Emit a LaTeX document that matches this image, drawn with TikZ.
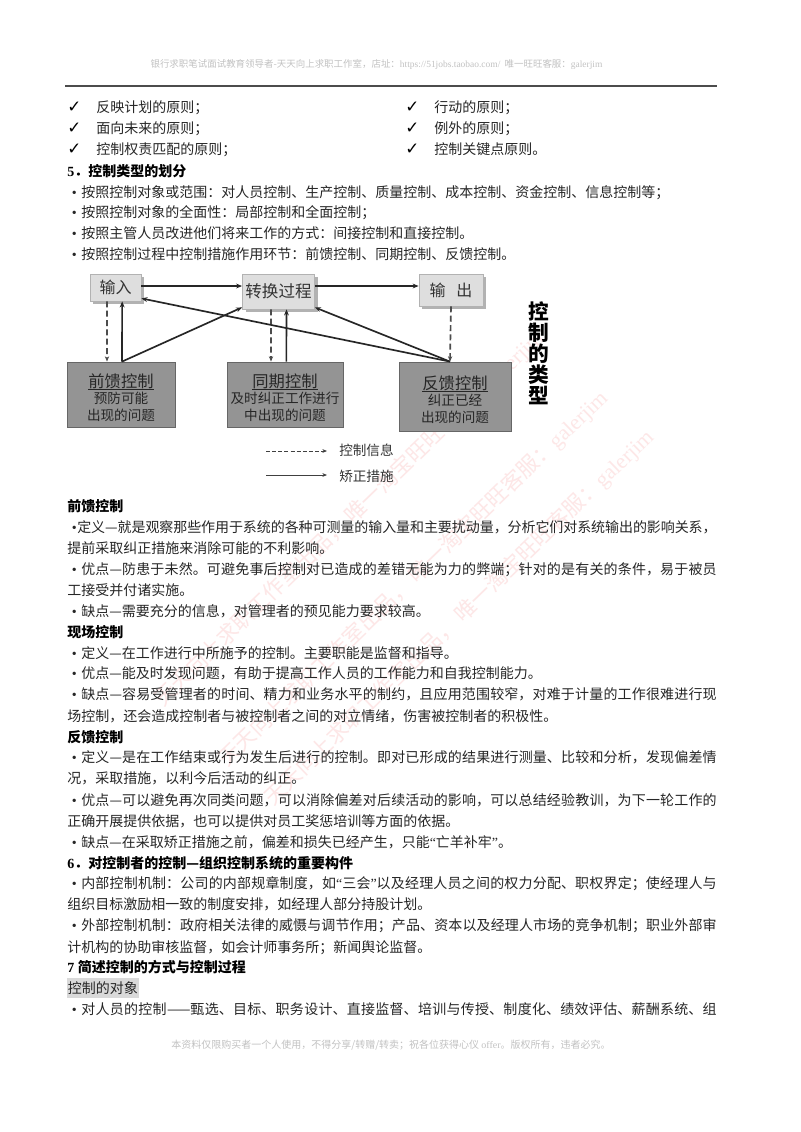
\documentclass[tikz,border=0pt]{standalone}
\usepackage{fontspec}
\usetikzlibrary{arrows.meta,shadows}
\setmainfont{Noto Sans CJK SC}
\newfontfamily\latf{Liberation Serif}
\newfontfamily\dejaf{DejaVu Sans}
\XeTeXlinebreaklocale "zh"
\XeTeXlinebreakskip=0pt plus 3pt minus 0.4pt
\definecolor{ink}{gray}{0.15}
\definecolor{wm}{RGB}{253,231,231}
\definecolor{hdr}{gray}{0.76}
\newcount\tcnt
\tikzset{
  tx/.style={anchor=base west,inner sep=0pt,text=ink,font=\fontsize{10.5pt}{13pt}\selectfont},
  hd/.style={tx,text=black,font=\fontsize{10.5pt}{13pt}\selectfont\bfseries},
  grayt/.style={anchor=base,inner sep=0pt,text=hdr},
  wmark/.style={anchor=base west,inner sep=0pt,rotate=44,text=wm,font=\fontsize{16.2pt}{18pt}\selectfont},
  lightbox/.style={draw=gray!60,line width=0.6pt,fill=black!13,text=black!80,inner sep=0pt,
    copy shadow={shadow xshift=2.5pt,shadow yshift=-2.5pt,fill=black!30,draw=none},
    font=\fontsize{12pt}{14pt}\selectfont},
  darkbox/.style={draw=black!60,line width=0.6pt,fill=black!42,text=black!85,inner sep=0pt,align=center,
    font=\fontsize{10.2pt}{12.7pt}\selectfont},
  solidarrow/.style={line width=1.25pt,black!85,-{Stealth[length=4.5pt,width=3.6pt]}},
  dasharrow/.style={line width=1.25pt,black!70,dash pattern=on 4.5pt off 2.5pt,-{Stealth[length=4pt,width=3.2pt]}},
  legsolid/.style={line width=0.6pt,black!75,-{Stealth[length=3.5pt,width=2.8pt]}},
  legdash/.style={line width=0.6pt,black!75,dash pattern=on 3pt off 1.6pt,-{Stealth[length=3.5pt,width=2.8pt]}},
}
\newcommand{\nm}{\global\advance\tcnt by 1 }
\newcommand{\plain}[3]{\nm\node[tx,name=t\the\tcnt] at (#1,#2+5) {#3};}
\newcommand{\head}[2]{\nm\node[hd,name=t\the\tcnt] at (67,#1+5) {#2};}
\newcommand{\dotm}[2]{\nm\node[tx,name=t\the\tcnt] at (#1,#2+5) {\latf\textbullet};}
\newcommand{\bl}[2]{\dotm{71.5}{#1}\plain{81}{#1}{#2}}
\newcommand{\jbl}[2]{\dotm{71.5}{#1}\nm\node[tx,name=t\the\tcnt] at (81,#1+5) {\parbox[b]{476.6pt}{\parfillskip=0pt\noindent #2}};}
\newcommand{\chk}[3]{\nm\node[tx,name=t\the\tcnt,text=black] at (#1,#2+5) {\dejaf\fontsize{12.5pt}{13pt}\selectfont ✓};\plain{#1+29}{#2}{#3}}
\newcommand{\ulx}[1]{\setbox0\hbox{\fontsize{12.2pt}{14pt}\selectfont #1}\rule{0pt}{15pt}\rlap{\rule[-1.7pt]{\wd0}{0.5pt}}\box0}
\begin{document}
\begin{tikzpicture}[x=0.75pt,y=-0.75pt]
\useasboundingbox (0,0) rectangle (800,1132);
\fill[white] (0,0) rectangle (800,1132);
% watermark
\node[wmark,name=wa] at (163,708) {天天向上求职工作室出品， 唯一淘宝旺旺客服：{\latf galerjim}};
\node[wmark,name=wb] at (227,768) {天天向上求职工作室出品， 唯一淘宝旺旺客服：{\latf galerjim}};
\node[wmark,name=wc] at (273,807) {天天向上求职工作室出品， 唯一淘宝旺旺客服：{\latf galerjim}};
% header and footer
\node[grayt,name=header,font=\fontsize{7.1pt}{9pt}\selectfont] at (376.5,67) {银行求职笔试面试教育领导者-天天向上求职工作室，店址：{\latf https://51jobs.taobao.com/}\ \ 唯一旺旺客服：{\latf galerjim}};
\coordinate (ruleL) at (65,86);
\coordinate (ruleR) at (717,86);
\draw[line width=1.1pt,black!70] (ruleL) -- (ruleR);
\node[grayt,name=footer,font=\fontsize{7.5pt}{9pt}\selectfont] at (391,1048) {本资料仅限购买者一个人使用，不得分享/转赠/转卖；祝各位获得心仪 {\latf offer}。版权所有，违者必究。};
% top lists
\chk{67}{107}{反映计划的原则；}
\chk{67}{128}{面向未来的原则；}
\chk{67}{149}{控制权责匹配的原则；}
\chk{405}{107}{行动的原则；}
\chk{405}{128}{例外的原则；}
\chk{405}{149}{控制关键点原则。}
\head{171}{{\latf 5}．控制类型的划分}
\bl{192}{按照控制对象或范围：对人员控制、生产控制、质量控制、成本控制、资金控制、信息控制等；}
\bl{212}{按照控制对象的全面性：局部控制和全面控制；}
\bl{233}{按照主管人员改进他们将来工作的方式：间接控制和直接控制。}
\bl{254}{按照控制过程中控制措施作用环节：前馈控制、同期控制、反馈控制。}
% diagram
\node[lightbox,minimum width=38.25pt,minimum height=20.25pt,name=inp] at (115.5,287.5) {输入};
\node[lightbox,minimum width=54pt,minimum height=26.25pt,name=trans,font=\fontsize{12.4pt}{14pt}\selectfont] at (278.5,291.5) {转换过程};
\node[lightbox,minimum width=48pt,minimum height=24pt,name=outp] at (451,290) {输\ \ \ 出};
\node[darkbox,minimum width=81pt,minimum height=48.75pt,name=ff] at (121,394.5) {\ulx{前馈控制}\\预防可能\\出现的问题};
\node[darkbox,minimum width=87pt,minimum height=48.75pt,name=tq] at (285,394.5) {\ulx{同期控制}\\及时纠正工作进行\\中出现的问题};
\node[darkbox,minimum width=84pt,minimum height=51.75pt,name=fb] at (455,396.5) {\ulx{反馈控制}\\纠正已经\\出现的问题};
\node[anchor=north,inner sep=0pt,align=center,text=black,name=vtitle,font=\fontsize{15.5pt}{15.8pt}\selectfont\bfseries] at (539,301) {控\\制\\的\\类\\型};
\draw[solidarrow] (inp.east|-286,286) -- (trans.west|-286,286);
\draw[solidarrow] (trans.east|-286,286) -- (outp.west|-286,286);
\draw[dasharrow] ([xshift=-6.4pt]inp.south) -- ([xshift=-10.5pt]ff.north);
\draw[solidarrow] ([xshift=0.75pt]ff.north) -- ([xshift=5pt]inp.south);
\draw[solidarrow] ([xshift=0.75pt]ff.north) -- ([yshift=1.5pt]trans.south west);
\draw[dasharrow] ([xshift=-5.6pt]trans.south) -- ([xshift=-10.5pt]tq.north);
\draw[solidarrow] ([xshift=1pt]tq.north) -- ([xshift=6pt]trans.south);
\draw[dasharrow] (outp.south) -- ([xshift=-3.75pt]fb.north);
\draw[solidarrow] ([xshift=-3.75pt]fb.north) -- ([yshift=1.5pt]trans.south east);
\draw[solidarrow] ([xshift=-3.75pt]fb.north) -- ([yshift=2.25pt]inp.south east);
% legend
\coordinate (ld1) at (266,451);
\coordinate (ld2) at (327,451);
\coordinate (ls1) at (266,475);
\coordinate (ls2) at (327,475);
\draw[legdash] (ld1) -- (ld2);
\draw[legsolid] (ls1) -- (ls2);
\node[anchor=west,inner sep=0pt,text=black!80,name=lega,font=\fontsize{10.2pt}{12pt}\selectfont] at (339,450) {控制信息};
\node[anchor=west,inner sep=0pt,text=black!80,name=legb,font=\fontsize{10.2pt}{12pt}\selectfont] at (339,476) {矫正措施};
% body
\head{506}{前馈控制}
\dotm{71.5}{527}\nm\node[tx,name=t\the\tcnt] at (77,527+5) {\parbox[b]{479.6pt}{\parfillskip=0pt\noindent 定义—就是观察那些作用于系统的各种可测量的输入量和主要扰动量，分析它们对系统输出的影响关系，}};
\plain{67}{548}{提前采取纠正措施来消除可能的不利影响。}
\jbl{569}{优点—防患于未然。可避免事后控制对已造成的差错无能为力的弊端；针对的是有关的条件，易于被员}
\plain{67}{590}{工接受并付诸实施。}
\bl{611}{缺点—需要充分的信息，对管理者的预见能力要求较高。}
\head{632}{现场控制}
\bl{653}{定义—在工作进行中所施予的控制。主要职能是监督和指导。}
\bl{673}{优点—能及时发现问题，有助于提高工作人员的工作能力和自我控制能力。}
\jbl{694}{缺点—容易受管理者的时间、精力和业务水平的制约，且应用范围较窄，对难于计量的工作很难进行现}
\plain{67}{716}{场控制，还会造成控制者与被控制者之间的对立情绪，伤害被控制者的积极性。}
\head{737}{反馈控制}
\jbl{757}{定义—是在工作结束或行为发生后进行的控制。即对已形成的结果进行测量、比较和分析，发现偏差情}
\plain{67}{778}{况，采取措施，以利今后活动的纠正。}
\jbl{800}{优点—可以避免再次同类问题，可以消除偏差对后续活动的影响，可以总结经验教训，为下一轮工作的}
\plain{67}{821}{正确开展提供依据，也可以提供对员工奖惩培训等方面的依据。}
\bl{842}{缺点—在采取矫正措施之前，偏差和损失已经产生，只能{\latf “}亡羊补牢{\latf ”}。}
\head{863}{{\latf 6}．对控制者的控制—组织控制系统的重要构件}
\jbl{883}{内部控制机制：公司的内部规章制度，如{\latf “}三会{\latf ”}以及经理人员之间的权力分配、职权界定；使经理人与}
\plain{67}{904}{组织目标激励相一致的制度安排，如经理人部分持股计划。}
\jbl{925}{外部控制机制：政府相关法律的威慑与调节作用；产品、资本以及经理人市场的竞争机制；职业外部审}
\plain{67}{947}{计机构的协助审核监督，如会计师事务所；新闻舆论监督。}
\head{967}{{\latf 7 }简述控制的方式与控制过程}
\node[anchor=west,inner sep=0pt,fill=black!15,text=ink,name=hl,minimum width=53.5pt,minimum height=15pt,font=\fontsize{10.5pt}{13pt}\selectfont] at (67,988) {控制的对象};
\jbl{1009}{对人员的控制——甄选、目标、职务设计、直接监督、培训与传授、制度化、绩效评估、薪酬系统、组}
\end{tikzpicture}
\end{document}
